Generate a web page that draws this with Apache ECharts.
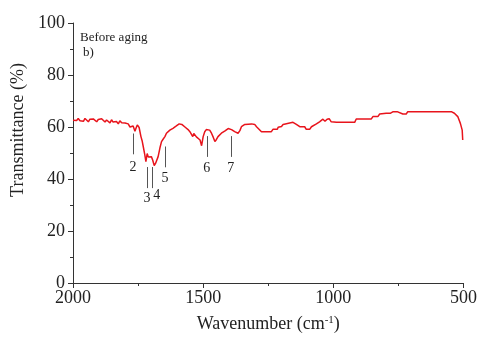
<!DOCTYPE html>
<html>
<head>
<meta charset="utf-8">
<script src="https://cdn.jsdelivr.net/npm/echarts@6/dist/echarts.min.js"></script>
<style>
  html, body { margin: 0; padding: 0; background: #fff; }
  #chart { width: 480px; height: 346px; }
</style>
</head>
<body>
<div id="chart"></div>
<script>
// FTIR spectrum, before aging
var wavenumber = [2000,1993,1986,1980,1973,1966,1960,1954,1948,1941,1935,1928,1922,1916,1909,1903,1896,1890,1884,1877,
  1871,1865,1858,1852,1846,1839,1833,1826,1820,1813,1807,1800,1794,1788,1781,1775,1769,1762,1757,1753,
  1746,1739,1734,1730,1724,1720,1715,1711,1705,1699,1694,1688,1683,1679,1673,1666,1660,1654,1647,1641,
  1635,1628,1622,1616,1609,1603,1597,1592,1587,1582,1577,1570,1564,1558,1551,1545,1540,1536,1532,1526,
  1519,1512,1506,1500,1494,1488,1481,1475,1468,1461,1455,1449,1443,1436,1430,1423,1416,1410,1404,1398,
  1391,1385,1379,1372,1366,1359,1353,1347,1340,1334,1314,1302,1295,1289,1276,1238,1232,1215,1212,1206,
  1199,1193,1155,1142,1129,1110,1104,1091,1084,1065,1053,1040,1032,1024,1016,1008,988,918,912,854,
  848,829,822,797,791,780,770,755,748,733,720,714,547,535,522,512,505,503];
var transmittance = [62.6,63.2,62.5,63.3,62.4,63.0,62.2,63.3,62.6,62.0,63.0,62.4,63.1,62.8,62.0,62.9,62.3,63.2,62.8,61.9,
  62.7,62.0,61.6,62.8,61.9,61.5,62.1,61.2,62.4,61.6,61.0,61.5,60.8,61.2,60.0,59.4,60.4,58.4,59.8,60.8,
  59.8,56.3,54.5,52.4,49.2,46.7,49.8,48.5,47.8,48.6,47.3,45.2,46.0,46.2,48.6,52.0,54.4,55.3,56.3,57.6,
  58.2,58.8,59.2,59.5,60.0,60.4,60.8,61.2,61.8,61.0,60.4,60.0,59.5,59.0,58.2,58.8,56.3,57.5,56.8,56.2,
  55.8,55.0,52.8,56.3,58.2,59.0,59.6,58.8,57.6,56.0,54.4,55.2,56.3,57.0,57.6,58.2,58.5,58.8,59.4,59.6,
  59.0,58.6,58.2,57.8,57.6,58.6,60.1,60.3,61.0,61.2,61.2,61.0,60.1,59.5,58.2,58.2,59.1,59.1,59.9,59.2,
  60.2,61.0,61.8,61.0,60.1,60.1,59.1,59.1,60.1,61.2,62.0,63.0,62.2,63.0,63.2,62.0,61.8,61.8,63.1,63.1,
  64.0,64.0,65.0,65.3,65.9,65.3,65.9,65.9,65.3,65.0,65.0,65.9,65.9,65.3,64.0,61.4,58.8,55.0];

// peak markers
var peakLabels = ['2', '3', '4', '5', '6', '7'];
var peakWn = [1770, 1716, 1697, 1647, 1486, 1394];
var peakTop = [57.5, 44.6, 44.6, 52.5, 56.5, 56.5];
var peakBottom = [49.5, 36.5, 36.5, 44.5, 48.5, 48.5];
var labelWn = [1770, 1716, 1678, 1647, 1486, 1394];
var labelT = [44.6, 32.7, 33.8, 40.4, 44.2, 44.2];

var serif = '"Liberation Serif", "DejaVu Serif", serif';

var spectrum = [];
for (var i = 0; i < wavenumber.length; i++) {
  spectrum.push([wavenumber[i], transmittance[i]]);
}
var markLines = [];
for (var j = 0; j < peakWn.length; j++) {
  markLines.push([{ coord: [peakWn[j], peakTop[j]] }, { coord: [peakWn[j], peakBottom[j]] }]);
}
var labelPts = [];
for (var k = 0; k < peakLabels.length; k++) {
  labelPts.push({ value: [labelWn[k], labelT[k]], name: peakLabels[k] });
}

var chart = echarts.init(document.getElementById('chart'));
chart.setOption({
  animation: false,
  backgroundColor: '#fff',
  grid: { left: 73, right: 16, top: 23, bottom: 63 },
  xAxis: {
    type: 'value',
    inverse: true,
    min: 500,
    max: 2000,
    interval: 500,
    name: 'Wavenumber (cm{sup|-1})',
    nameLocation: 'middle',
    nameGap: 32,
    nameTextStyle: {
      fontFamily: serif, fontSize: 18, color: '#222',
      rich: { sup: { fontFamily: serif, fontSize: 11, color: '#222', verticalAlign: 'top', padding: [0, 0, 8, 0] } }
    },
    axisLine: { lineStyle: { color: '#333', width: 1 } },
    axisTick: { length: 5, lineStyle: { color: '#333' } },
    minorTick: { show: true, splitNumber: 2, length: 3, lineStyle: { color: '#333' } },
    splitLine: { show: false },
    axisLabel: { fontFamily: serif, fontSize: 18, color: '#222', margin: 6, formatter: function (v) { return String(v); } }
  },
  yAxis: {
    type: 'value',
    min: 0,
    max: 100,
    interval: 20,
    name: 'Transmittance (%)',
    nameLocation: 'middle',
    nameGap: 44,
    nameTextStyle: { fontFamily: serif, fontSize: 18, color: '#222', padding: [0, 0, 0, 46] },
    axisLine: { show: true, lineStyle: { color: '#333', width: 1 } },
    axisTick: { show: true, length: 5, lineStyle: { color: '#333' } },
    minorTick: { show: true, splitNumber: 2, length: 3, lineStyle: { color: '#333' } },
    splitLine: { show: false },
    axisLabel: { fontFamily: serif, fontSize: 18, color: '#222', margin: 8 }
  },
  graphic: [
    { type: 'text', left: 80, top: 31, style: { text: 'Before aging', font: '13px ' + serif, fill: '#222' } },
    { type: 'text', left: 83, top: 46, style: { text: 'b)', font: '13px ' + serif, fill: '#222' } }
  ],
  series: [
    {
      type: 'line',
      data: spectrum,
      showSymbol: false,
      lineStyle: { color: '#e8141c', width: 1.5 },
      itemStyle: { color: '#e8141c' },
      markLine: {
        silent: true,
        symbol: ['none', 'none'],
        label: { show: false },
        lineStyle: { color: '#555', width: 1, type: 'solid' },
        data: markLines
      }
    },
    {
      type: 'scatter',
      data: labelPts,
      symbolSize: 1,
      silent: true,
      itemStyle: { color: 'transparent', opacity: 1 },
      label: {
        show: true,
        position: 'inside',
        formatter: '{b}',
        fontFamily: serif,
        fontSize: 14,
        color: '#222',
        opacity: 1
      }
    }
  ]
});
</script>
</body>
</html>
